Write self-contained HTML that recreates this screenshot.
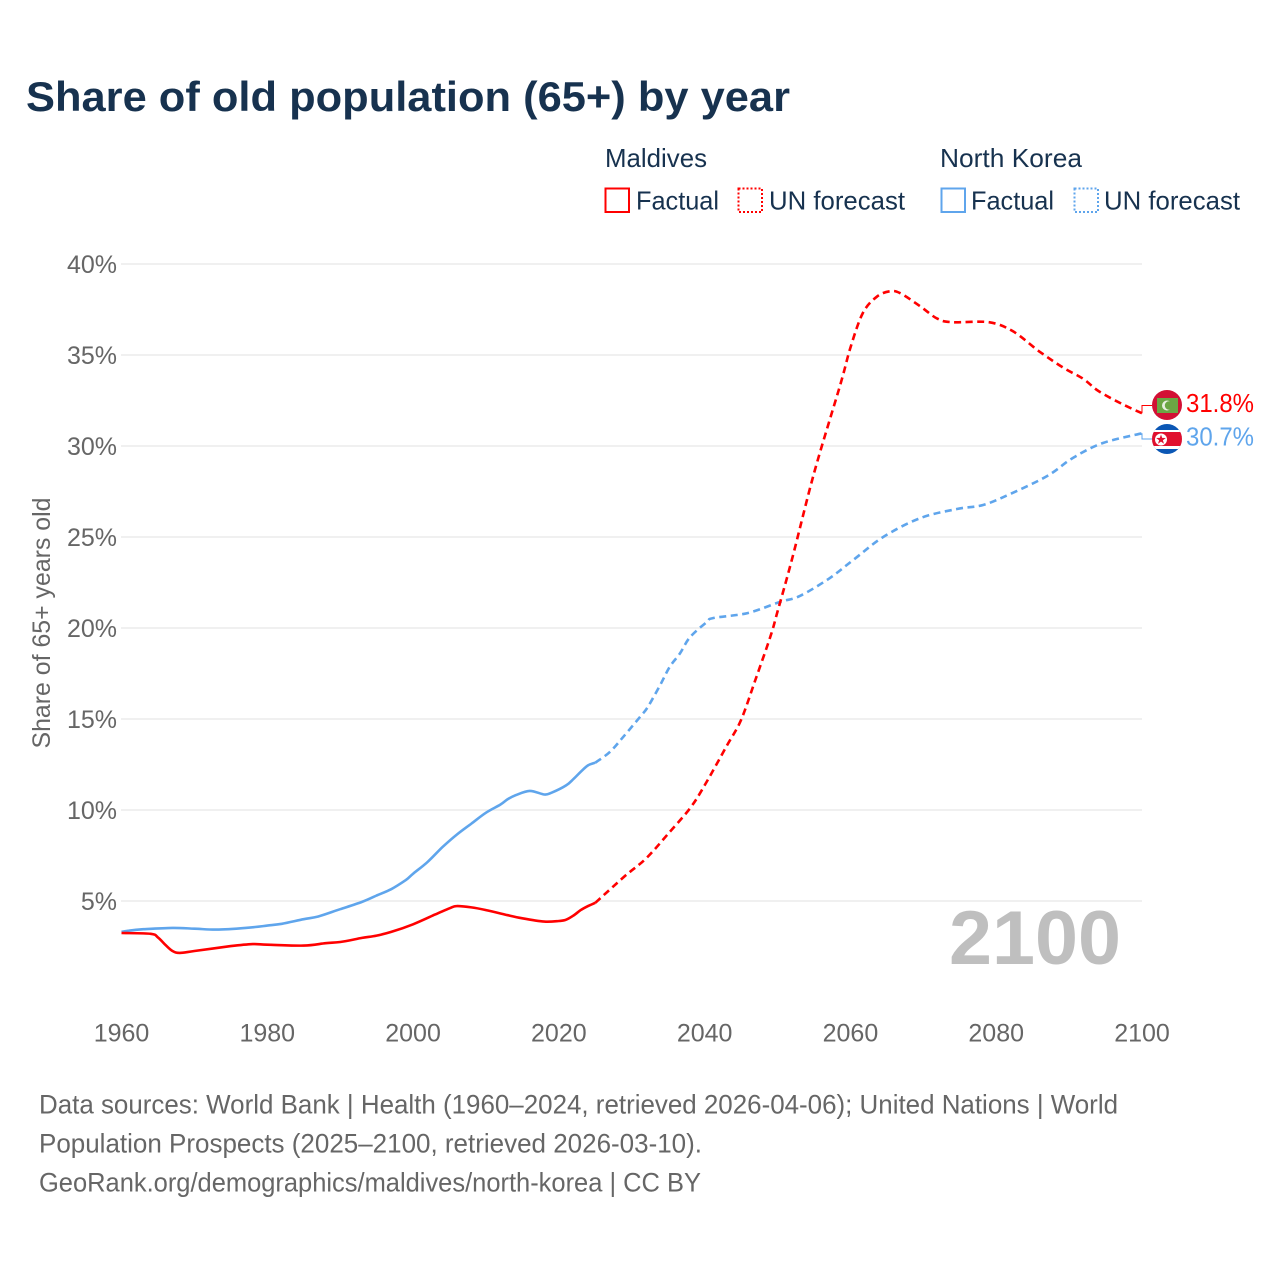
<!DOCTYPE html>
<html lang="en">
<head>
<meta charset="utf-8">
<title>Share of old population (65+) by year</title>
<style>
html,body{margin:0;padding:0;background:#fff;}
svg{display:block;font-family:"Liberation Sans",sans-serif;}
</style>
</head>
<body>
<svg id="chart" width="1280" height="1280" viewBox="0 0 1280 1280" xmlns="http://www.w3.org/2000/svg">
  <defs>
    <clipPath id="flag-clip-nk"><circle cx="1167" cy="439" r="15"/></clipPath>
  </defs>
  <rect x="0" y="0" width="1280" height="1280" fill="#fff"/>
  <text x="26" y="111" font-size="42" font-weight="700" fill="#17324f" textLength="764" lengthAdjust="spacingAndGlyphs">Share of old population (65+) by year</text>

  <g fill="#17324f" font-size="26">
    <text x="605" y="167" textLength="102" lengthAdjust="spacingAndGlyphs">Maldives</text>
    <text x="940" y="167" textLength="142" lengthAdjust="spacingAndGlyphs">North Korea</text>
    <rect x="605.5" y="188.5" width="23.5" height="23.5" fill="none" stroke="#ff0000" stroke-width="2"/>
    <text x="636" y="209.5" textLength="83" lengthAdjust="spacingAndGlyphs">Factual</text>
    <rect x="738.5" y="188.5" width="23.5" height="23.5" fill="none" stroke="#ff0000" stroke-width="2" stroke-dasharray="2 2"/>
    <text x="769" y="209.5" textLength="136" lengthAdjust="spacingAndGlyphs">UN forecast</text>
    <rect x="941.5" y="188.5" width="23.5" height="23.5" fill="none" stroke="#5fa5ec" stroke-width="2"/>
    <text x="971" y="209.5" textLength="83" lengthAdjust="spacingAndGlyphs">Factual</text>
    <rect x="1074.5" y="188.5" width="23.5" height="23.5" fill="none" stroke="#5fa5ec" stroke-width="2" stroke-dasharray="2 2"/>
    <text x="1104" y="209.5" textLength="136" lengthAdjust="spacingAndGlyphs">UN forecast</text>
  </g>

  <g id="grid"></g>
  <g id="yticks"></g>
  <g id="xticks"></g>
  <text transform="translate(50,623) rotate(-90)" text-anchor="middle" font-size="25" fill="#666" textLength="251" lengthAdjust="spacingAndGlyphs">Share of 65+ years old</text>

  <text x="949" y="964" font-size="76" font-weight="700" fill="#bfbfbf" textLength="172" lengthAdjust="spacingAndGlyphs">2100</text>

  <g id="series"></g>

  <g>
    <circle cx="1167" cy="405" r="15" fill="#d21034"/>
    <rect x="1157" y="398" width="21" height="15" fill="#6ba644"/>
    <circle cx="1167" cy="405.5" r="5" fill="#e8efe0"/>
    <circle cx="1169" cy="405.5" r="4.2" fill="#6ba644"/>
  </g>
  <g clip-path="url(#flag-clip-nk)">
    <rect x="1150" y="424" width="34" height="31" fill="#0b57b5"/>
    <rect x="1150" y="430" width="34" height="19" fill="#fff"/>
    <rect x="1150" y="432" width="34" height="14" fill="#e0102f"/>
    <circle cx="1161" cy="439.5" r="6" fill="#fff"/>
    <polygon points="1161,434.5 1162.2,437.9 1165.8,438 1162.9,440.2 1164,443.7 1161,441.6 1158,443.7 1159.1,440.2 1156.2,438 1159.8,437.9" fill="#e0102f"/>
  </g>

  <text x="1186" y="412" font-size="26" fill="#ff0000" textLength="68" lengthAdjust="spacingAndGlyphs">31.8%</text>
  <text x="1186" y="445.500" font-size="26" fill="#5fa5ec" textLength="68" lengthAdjust="spacingAndGlyphs">30.7%</text>

  <g fill="#666" font-size="27">
    <text x="39" y="1113.500" textLength="1079" lengthAdjust="spacingAndGlyphs">Data sources: World Bank | Health (1960–2024, retrieved 2026-04-06); United Nations | World</text>
    <text x="39" y="1152.500" textLength="663" lengthAdjust="spacingAndGlyphs">Population Prospects (2025–2100, retrieved 2026-03-10).</text>
    <text x="39" y="1191.500" textLength="662" lengthAdjust="spacingAndGlyphs">GeoRank.org/demographics/maldives/north-korea | CC BY</text>
  </g>
</svg>
<script>
const yTickValues = [5, 10, 15, 20, 25, 30, 35, 40];
const xTickValues = [1960, 1980, 2000, 2020, 2040, 2060, 2080, 2100];

const maldivesFactualYears = [1960,1964,1965,1966,1967,1968,1970,1975,1978,1980,1985,1988,1990,1993,1995,1997,2000,2003,2005,2006,2008,2010,2013,2015,2018,2020,2021,2022,2023,2024,2025];
const maldivesFactualValues = [3.24,3.2,3.0,2.6,2.25,2.15,2.25,2.52,2.63,2.6,2.55,2.68,2.75,2.97,3.1,3.3,3.72,4.25,4.6,4.72,4.65,4.5,4.22,4.05,3.87,3.9,3.97,4.2,4.5,4.72,4.9];
const maldivesForecastYears = [2025,2029,2032,2035,2038,2040,2043,2045,2047,2049,2050,2052,2055,2058.6,2060,2061.7,2063.6,2065.400,2066.800,2069.500,2071.900,2074,2079,2082.300,2085.900,2089.200,2091.900,2094.100,2097.300,2100];
const maldivesForecastValues = [4.9,6.35,7.35,8.7,10.1,11.35,13.5,14.95,17.2,19.5,20.9,23.8,28.5,33.35,35.4,37.3,38.2,38.5,38.4,37.7,37.0,36.8,36.8,36.3,35.2,34.3,33.7,33.0,32.3,31.8];

const northKoreaFactualYears = [1960,1961,1963,1967,1970,1973,1977,1980,1982,1985,1987,1990,1993,1995,1997,1999,2000,2002,2004,2006,2008,2010,2012,2013,2014,2016,2018,2019,2021,2022,2023,2024,2025];
const northKoreaFactualValues = [3.3,3.37,3.45,3.52,3.48,3.43,3.52,3.65,3.75,4.0,4.15,4.55,4.95,5.3,5.65,6.15,6.5,7.15,7.95,8.65,9.25,9.85,10.3,10.6,10.8,11.05,10.85,10.95,11.35,11.7,12.1,12.45,12.6];
const northKoreaForecastYears = [2025,2027,2028.800,2031.100,2032.200,2033.900,2035.200,2036.600,2038,2040.300,2041.200,2045.900,2050.300,2053,2057,2060.400,2064.500,2069.600,2074.600,2078.200,2081.900,2087,2090.500,2094.600,2100];
const northKoreaForecastValues = [12.6,13.19,14.0,15.1,15.66,16.87,17.86,18.6,19.5,20.33,20.55,20.82,21.43,21.75,22.7,23.74,25.0,26.04,26.54,26.76,27.36,28.35,29.34,30.16,30.7];

const svgNS = 'http://www.w3.org/2000/svg';
const xScale = function (year) { return 121.5 + (year - 1960) * (1142 - 121.5) / 140; };
const yScale = function (value) { return 992 - value * 18.2; };

const gridLayer = document.getElementById('grid');
const yTickLayer = document.getElementById('yticks');
const xTickLayer = document.getElementById('xticks');
const seriesLayer = document.getElementById('series');

yTickValues.forEach(function (tick) {
  const line = document.createElementNS(svgNS, 'line');
  line.setAttribute('x1', 121);
  line.setAttribute('x2', 1142);
  line.setAttribute('y1', yScale(tick));
  line.setAttribute('y2', yScale(tick));
  line.setAttribute('stroke', '#e8e8e8');
  line.setAttribute('stroke-width', '1.3');
  
  
  gridLayer.appendChild(line);

  const label = document.createElementNS(svgNS, 'text');
  label.setAttribute('x', 117);
  label.setAttribute('y', yScale(tick) + 9);
  label.setAttribute('text-anchor', 'end');
  label.setAttribute('font-size', '25');
  label.setAttribute('fill', '#666');
  
  
  label.textContent = tick + '%';
  yTickLayer.appendChild(label);
});

xTickValues.forEach(function (tick) {
  const label = document.createElementNS(svgNS, 'text');
  label.setAttribute('x', xScale(tick));
  label.setAttribute('y', 1041.5);
  label.setAttribute('text-anchor', 'middle');
  label.setAttribute('font-size', '25');
  label.setAttribute('fill', '#666');
  
  
  label.textContent = tick;
  xTickLayer.appendChild(label);
});

function buildSmoothPath(years, values) {
  const pts = years.map(function (year, i) {
    return [xScale(year), yScale(values[i])];
  });
  let d = 'M' + pts[0][0].toFixed(1) + ' ' + pts[0][1].toFixed(1);
  for (let i = 0; i < pts.length - 1; i++) {
    const p0 = pts[Math.max(i - 1, 0)];
    const p1 = pts[i];
    const p2 = pts[i + 1];
    const p3 = pts[Math.min(i + 2, pts.length - 1)];
    const c1x = p1[0] + (p2[0] - p0[0]) / 6;
    const c1y = p1[1] + (p2[1] - p0[1]) / 6;
    const c2x = p2[0] - (p3[0] - p1[0]) / 6;
    const c2y = p2[1] - (p3[1] - p1[1]) / 6;
    d += ' C' + c1x.toFixed(1) + ' ' + c1y.toFixed(1) + ' ' + c2x.toFixed(1) + ' ' + c2y.toFixed(1) + ' ' + p2[0].toFixed(1) + ' ' + p2[1].toFixed(1);
  }
  return d;
}

function drawSeries(years, values, color, dashed, name) {
  const line = document.createElementNS(svgNS, 'path');
  line.setAttribute('d', buildSmoothPath(years, values));
  line.setAttribute('fill', 'none');
  line.setAttribute('stroke', color);
  line.setAttribute('stroke-width', '2.6');
  line.setAttribute('stroke-linejoin', 'round');
  if (dashed) {
    line.setAttribute('stroke-dasharray', '7 4.5');
  }
  
  
  seriesLayer.appendChild(line);
}

function drawConnector(endValue, labelY, color, name) {
  const endX = xScale(2100);
  const endY = yScale(endValue);
  const path = document.createElementNS(svgNS, 'polyline');
  path.setAttribute('points', endX + ',' + endY + ' ' + endX + ',' + labelY + ' 1152,' + labelY);
  path.setAttribute('fill', 'none');
  path.setAttribute('stroke', color);
  path.setAttribute('stroke-width', '1');
  
  
  seriesLayer.appendChild(path);
}

drawSeries(northKoreaFactualYears, northKoreaFactualValues, '#5fa5ec', false, 'line-north-korea-factual');
drawSeries(northKoreaForecastYears, northKoreaForecastValues, '#5fa5ec', true, 'line-north-korea-forecast');
drawSeries(maldivesFactualYears, maldivesFactualValues, '#ff0000', false, 'line-maldives-factual');
drawSeries(maldivesForecastYears, maldivesForecastValues, '#ff0000', true, 'line-maldives-forecast');
drawConnector(maldivesForecastValues[maldivesForecastValues.length - 1], 405.5, '#ff0000', 'connector-maldives');
drawConnector(northKoreaForecastValues[northKoreaForecastValues.length - 1], 439, '#5fa5ec', 'connector-north-korea');
</script>
</body>
</html>
